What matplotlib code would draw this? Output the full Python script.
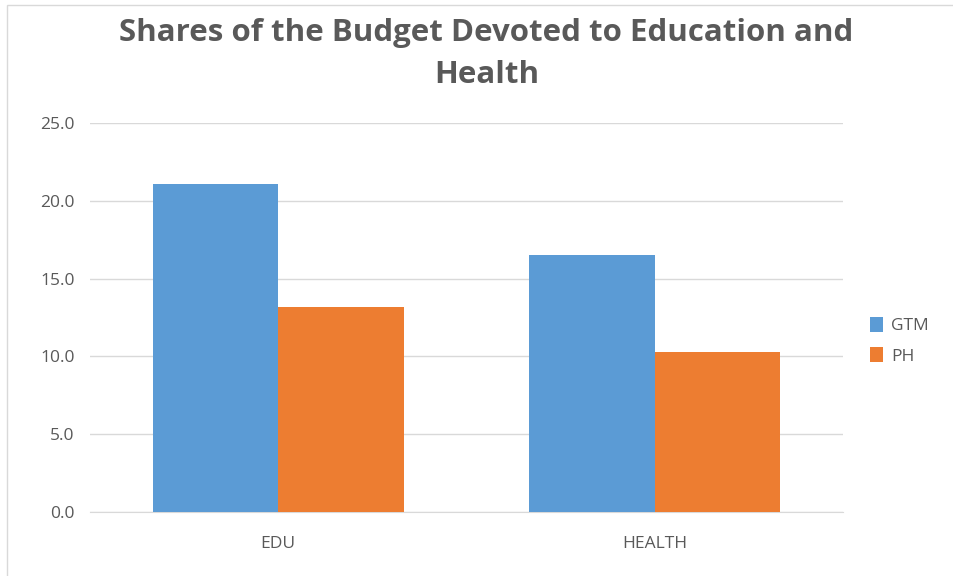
import matplotlib.pyplot as plt
import matplotlib.patches as mpatches
import numpy as np

# Data
categories = ['EDU', 'HEALTH']
gtm = [21.1, 16.5]
ph = [13.2, 10.3]
yticks = [0, 5, 10, 15, 20, 25]

blue = '#5b9bd5'
orange = '#ed7d31'
grey_text = '#595959'
grid_col = '#d9d9d9'

plt.rcParams['font.family'] = ['Open Sans', 'DejaVu Sans']

fig = plt.figure(figsize=(9.54, 5.76), dpi=100)
ax = fig.add_axes([90/954, 1 - 512/576, (843 - 90)/954, (512 - 123)/576])

# outer chart frame
fig.patches.append(mpatches.Rectangle((7/954, -0.01), 1.0, 1 - 5/576 + 0.01,
                                      transform=fig.transFigure, fill=False,
                                      edgecolor='#d9d9d9', linewidth=1))

index = np.arange(len(categories))
bar_width = 1/3
ax.bar(index - bar_width/2, gtm, width=bar_width, color=blue, label='GTM', zorder=3)
ax.bar(index + bar_width/2, ph, width=bar_width, color=orange, label='PH', zorder=3)

ax.set_xlim(-0.5, len(categories) - 0.5)
ax.set_ylim(0, 25)
ax.set_yticks(yticks)
ax.set_yticklabels([f'{v:.1f}' for v in yticks])
ax.set_xticks(index)
ax.set_xticklabels(categories)
ax.tick_params(axis='both', length=0, labelsize=12.5, labelcolor=grey_text)
ax.tick_params(axis='y', pad=11)
ax.tick_params(axis='x', pad=17)
ax.yaxis.grid(True, color=grid_col, linewidth=1, zorder=0)
for side in ['top', 'right', 'left']:
    ax.spines[side].set_visible(False)
ax.spines['bottom'].set_color(grid_col)

fig.text(0.510, 0.969, 'Shares of the Budget Devoted to Education and\nHealth',
         ha='center', va='top', fontsize=22.5, fontweight='bold', color=grey_text,
         linespacing=1.54)

ax.legend(loc='center left', bbox_to_anchor=(1.015, 0.44), frameon=False,
          fontsize=12.5, labelcolor=grey_text, handlelength=0.75, handleheight=0.9,
          handletextpad=0.45, labelspacing=0.75)

plt.savefig('out.png', dpi=100)
